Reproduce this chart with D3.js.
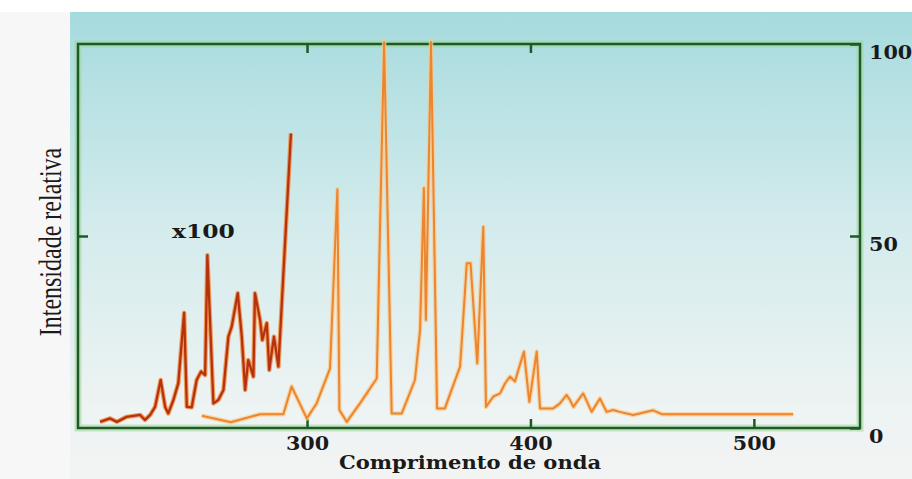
<!DOCTYPE html>
<html>
<head>
<meta charset="utf-8">
<script src="https://cdn.jsdelivr.net/npm/d3@7"></script>
<style>
  body { margin: 0; background: #f6f6f6; }
  svg { display: block; }
</style>
</head>
<body>
<div id="chart"></div>
<script>
// weak band, shown x100 (wavelength nm / relative intensity)
var lowWave = [207.4, 211.9, 214.9, 219.3, 225.3, 227.5, 229.8, 232.0, 234.5, 236.5,
               237.9, 240.2, 242.4, 245.0, 246.2, 248.4, 250.6, 252.6, 254.4, 255.4,
               258.1, 260.3, 262.6, 264.8, 266.3, 269.0, 270.8, 272.3, 273.7, 276.0,
               276.7, 279.0, 280.0, 282.0, 283.1, 285.2, 287.2, 292.8];
var lowInt  = [1.6, 2.5, 1.6, 2.9, 3.4, 2.1, 3.4, 5.5, 12.5, 5.5,
               3.8, 7.3, 11.7, 30.0, 5.5, 5.4, 12.5, 14.7, 13.8, 45.0,
               6.4, 7.3, 9.9, 23.8, 26.4, 35.1, 23.8, 9.9, 17.7, 13.4,
               35.1, 28.1, 22.9, 27.3, 15.1, 23.8, 16.0, 76.7];

// main spectrum
var mainWave = [252.9, 265.9, 279.0, 289.4, 293.1, 299.9, 304.3, 310.3, 313.6, 314.5,
                317.8, 323.7, 331.2, 334.5, 337.9, 342.4, 348.3, 350.6, 352.3, 353.2,
                355.5, 358.2, 361.7, 368.5, 369.4, 371.5, 373.2, 376.2, 378.9, 380.1,
                383.4, 386.4, 388.6, 390.8, 393.1, 394.1, 397.1, 399.5, 402.8, 404.3,
                410.2, 413.2, 416.2, 417.7, 419.2, 423.6, 427.4, 431.1, 434.1, 437.0,
                440.0, 446.0, 454.9, 458.8, 517.6];
var mainInt  = [3.2, 1.5, 3.6, 3.6, 10.8, 2.5, 6.4, 15.5, 62.2, 4.7,
                1.6, 6.4, 12.9, 100.5, 3.8, 3.8, 12.5, 25.5, 62.5, 28.1,
                100.5, 5.1, 5.1, 16.0, 23.8, 42.9, 42.9, 16.8, 52.4, 5.5,
                8.2, 9.0, 11.6, 13.4, 12.1, 14.2, 19.9, 6.8, 19.9, 5.1,
                5.1, 6.4, 8.6, 7.3, 5.5, 9.0, 4.2, 7.7, 4.2, 4.7,
                4.2, 3.4, 4.6, 3.6, 3.6];

var xTicks = [300, 400, 500];
var xTopTicks = [300, 400];
var yTicks = [0, 50, 100];
var yLeftTicks = [50];
var xTitle = "Comprimento de onda";
var yTitle = "Intensidade relativa";
var lowNote = "x100";

var W = 912, H = 479;
var margin = {top: 44, right: 52, bottom: 51, left: 78},
    w = W - margin.left - margin.right,
    h = H - margin.top - margin.bottom;

var green = "#1d5a26";

var xScale = d3.scaleLinear().domain([197.5, 547.5]).range([0, w]);
var yScale = d3.scaleLinear().domain([0, 100]).range([h, 0]);

var root = d3.select("#chart").append("svg")
    .attr("width", W)
    .attr("height", H);

// background panel
var defs = root.append("defs");
var grad = defs.append("linearGradient")
    .attr("id", "bg")
    .attr("x1", 0).attr("y1", 0).attr("x2", 0).attr("y2", 1);
grad.append("stop").attr("offset", "0%").attr("stop-color", "#a6dbde");
grad.append("stop").attr("offset", "45%").attr("stop-color", "#d3ebec");
grad.append("stop").attr("offset", "85%").attr("stop-color", "#eef3f3");
grad.append("stop").attr("offset", "100%").attr("stop-color", "#f3f3f3");

root.append("rect").attr("width", W).attr("height", H).attr("fill", "#f7f7f7");
root.append("rect").attr("width", W).attr("height", 12).attr("fill", "#ffffff");
root.append("rect")
    .attr("x", 70).attr("y", 12)
    .attr("width", W - 70).attr("height", H - 12)
    .attr("fill", "url(#bg)");

var svg = root.append("g")
    .attr("transform", "translate(" + margin.left + "," + margin.top + ")");

// frame (soft glow + dark line)
svg.append("rect")
    .attr("width", w).attr("height", h)
    .attr("fill", "none")
    .attr("stroke", "#9fd695")
    .attr("stroke-opacity", 0.55)
    .attr("stroke-width", 7);
svg.append("rect")
    .attr("width", w).attr("height", h)
    .attr("fill", "none")
    .attr("stroke", green)
    .attr("stroke-width", 2.5);

function styleAxis(g) {
  g.select(".domain").remove();
  g.selectAll(".tick line").attr("stroke", green).attr("stroke-width", 2.5);
  g.selectAll(".tick text")
    .attr("fill", "#1a1a1a")
    .style("font-family", "'DejaVu Serif', serif")
    .style("font-weight", "bold")
    .style("font-size", "18px");
}

// stretch text sideways like the source picture
function widen(sel, k) {
  sel.each(function() {
    var len = this.getComputedTextLength();
    d3.select(this).attr("textLength", len * k).attr("lengthAdjust", "spacingAndGlyphs");
  });
}

svg.append("g")
    .attr("transform", "translate(0," + h + ")")
    .call(d3.axisBottom(xScale).tickValues(xTicks).tickSize(-9).tickPadding(9)
          .tickFormat(d3.format("d")))
    .call(styleAxis);

svg.append("g")
    .call(d3.axisTop(xScale).tickValues(xTopTicks).tickSize(-9).tickFormat(""))
    .call(styleAxis);

svg.append("g")
    .call(d3.axisLeft(yScale).tickValues(yLeftTicks).tickSize(-10).tickFormat(""))
    .call(styleAxis);

svg.append("g")
    .attr("transform", "translate(" + w + ",0)")
    .call(d3.axisRight(yScale).tickValues(yTicks).tickSize(-10).tickPadding(9)
          .tickFormat(d3.format("d")))
    .call(styleAxis)
    .selectAll(".tick text").attr("dy", "0.79em");

svg.selectAll(".tick text").call(widen, 1.15);

// spectra
var line = d3.line()
    .x(function(d) { return xScale(d[0]); })
    .y(function(d) { return yScale(d[1]); });

var mainPts = d3.zip(mainWave, mainInt);
var lowPts = d3.zip(lowWave, lowInt);

svg.append("path").datum(mainPts)
    .attr("d", line).attr("fill", "none")
    .attr("stroke", "#fcc98a").attr("stroke-width", 4.5)
    .attr("stroke-linejoin", "round").attr("stroke-opacity", 0.75);
svg.append("path").datum(mainPts)
    .attr("d", line).attr("fill", "none")
    .attr("stroke", "#ec8530").attr("stroke-width", 2)
    .attr("stroke-linejoin", "round");

svg.append("path").datum(lowPts)
    .attr("d", line).attr("fill", "none")
    .attr("stroke", "#f08a3a").attr("stroke-width", 4.5)
    .attr("stroke-linejoin", "round").attr("stroke-opacity", 0.8);
svg.append("path").datum(lowPts)
    .attr("d", line).attr("fill", "none")
    .attr("stroke", "#b6320f").attr("stroke-width", 2.3)
    .attr("stroke-linejoin", "round");

// labels
root.append("text")
    .attr("x", 172).attr("y", 238)
    .style("font-family", "'DejaVu Serif', serif")
    .style("font-weight", "bold")
    .style("font-size", "18px")
    .attr("fill", "#1a1a1a")
    .text(lowNote)
    .call(widen, 1.3);

root.append("text")
    .attr("x", 470).attr("y", 469)
    .attr("text-anchor", "middle")
    .style("font-family", "'DejaVu Serif', serif")
    .style("font-weight", "bold")
    .style("font-size", "18px")
    .attr("fill", "#1a1a1a")
    .text(xTitle)
    .call(widen, 1.17);

root.append("text")
    .attr("transform", "translate(61,242) scale(1.3,1) rotate(-90)")
    .attr("text-anchor", "middle")
    .style("font-family", "'Liberation Serif', serif")
    .style("font-size", "24px")
    .attr("fill", "#1a1a1a")
    .text(yTitle);
</script>
</body>
</html>
